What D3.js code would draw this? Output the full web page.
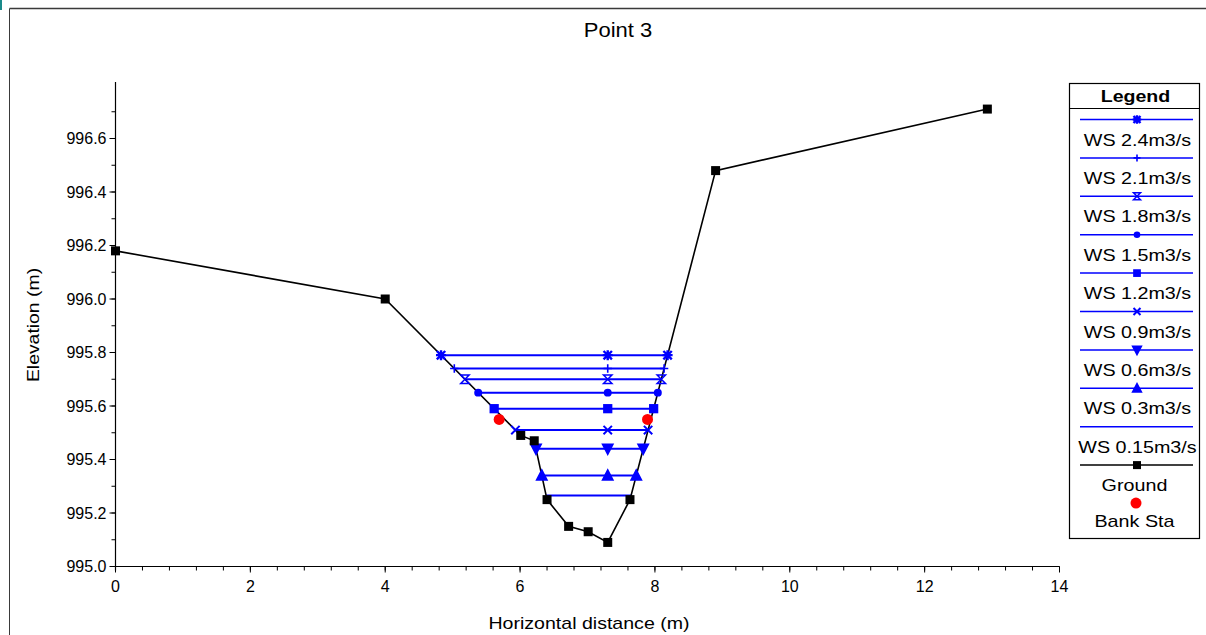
<!DOCTYPE html>
<html>
<head>
<meta charset="utf-8">
<script src="https://cdn.jsdelivr.net/npm/d3@7"></script>
<style>
  html, body { margin: 0; padding: 0; background: #fff; }
  svg { display: block; font-family: "Liberation Sans", Arial, sans-serif; }
</style>
</head>
<body>
<svg id="chart" width="1206" height="635"></svg>
<script>
// ---------- data ----------
const groundX = [0, 4.0, 6.01, 6.21, 6.40, 6.72, 7.01, 7.30, 7.63, 8.90, 12.93];
const groundY = [996.18, 996.0, 995.49, 995.47, 995.25, 995.15, 995.13, 995.09, 995.25, 996.48, 996.71];

const wsNames = ["WS 2.4m3/s", "WS 2.1m3/s", "WS 1.8m3/s", "WS 1.5m3/s", "WS 1.2m3/s",
                 "WS 0.9m3/s", "WS 0.6m3/s", "WS 0.3m3/s", "WS 0.15m3/s"];
const wsElev  = [995.79, 995.74, 995.70, 995.65, 995.59, 995.51, 995.44, 995.34, 995.265];
const wsMarker = ["star", "plus", "hourglass", "circle", "square", "x", "tridown", "triup", "none"];
const wsMidStation = 7.30;

const bankX = [5.69, 7.89];
const bankY = [995.55, 995.55];

const xTicks = [0, 2, 4, 6, 8, 10, 12, 14];
const yTicks = [995.0, 995.2, 995.4, 995.6, 995.8, 996.0, 996.2, 996.4, 996.6];

const titleText = "Point 3";
const xLabel = "Horizontal distance (m)";
const yLabel = "Elevation (m)";

// ---------- setup ----------
const svg = d3.select("#chart");
const BLUE = "#0000ff";

function stretch(sel, k) {
  sel.each(function () {
    const w = this.getComputedTextLength();
    d3.select(this).attr("textLength", w * k).attr("lengthAdjust", "spacingAndGlyphs");
  });
  return sel;
}

// frame
svg.append("line").attr("x1", 9.5).attr("x2", 1206).attr("y1", 8.5).attr("y2", 8.5)
  .attr("stroke", "#3a3a3a").attr("stroke-width", 1.5);
svg.append("line").attr("x1", 9.5).attr("x2", 9.5).attr("y1", 8.5).attr("y2", 635)
  .attr("stroke", "#3a3a3a").attr("stroke-width", 1);
svg.append("rect").attr("x", 0).attr("y", 0).attr("width", 2).attr("height", 10).attr("fill", "#1a8a8a");

const x = d3.scaleLinear().domain([0, 14]).range([115.5, 1059.5]);
const y = d3.scaleLinear().domain([995.0, 996.6]).range([566.5, 138.5]);
const yTop = 82;

// ---------- axes ----------
const xMinor = d3.range(0, 14.0001, 0.4).map(v => +v.toFixed(2));
const yMinor = d3.range(995.0, 996.75, 0.1).map(v => +v.toFixed(2)).filter(v => y(v) >= yTop);

const axisG = svg.append("g").attr("stroke", "#000");
axisG.append("line").attr("x1", x(0)).attr("x2", x(14)).attr("y1", y(995)).attr("y2", y(995)).attr("stroke-width", 1.2);
axisG.append("line").attr("x1", x(0)).attr("x2", x(0)).attr("y1", yTop).attr("y2", y(995) + 4).attr("stroke-width", 1.2);

axisG.selectAll(".xmin").data(xMinor).enter().append("line")
  .attr("x1", d => x(d)).attr("x2", d => x(d))
  .attr("y1", y(995)).attr("y2", y(995) + 4).attr("stroke-width", 1);
axisG.selectAll(".xmaj").data(xTicks).enter().append("line")
  .attr("x1", d => x(d)).attr("x2", d => x(d))
  .attr("y1", y(995)).attr("y2", y(995) + 6).attr("stroke-width", 1);
axisG.selectAll(".ymin").data(yMinor).enter().append("line")
  .attr("x1", x(0) - 4).attr("x2", x(0))
  .attr("y1", d => y(d)).attr("y2", d => y(d)).attr("stroke-width", 1);
axisG.selectAll(".ymaj").data(yTicks).enter().append("line")
  .attr("x1", x(0) - 6).attr("x2", x(0))
  .attr("y1", d => y(d)).attr("y2", d => y(d)).attr("stroke-width", 1);

svg.selectAll(".xtl").data(xTicks).enter().append("text")
  .attr("x", d => x(d)).attr("y", y(995) + 25)
  .attr("text-anchor", "middle").attr("font-size", 16).attr("fill", "#000")
  .text(d => d3.format("d")(d));
svg.selectAll(".ytl").data(yTicks).enter().append("text")
  .attr("x", x(0) - 9).attr("y", d => y(d) + 5.5)
  .attr("text-anchor", "end").attr("font-size", 16).attr("fill", "#000")
  .text(d => d3.format(".1f")(d));

stretch(svg.append("text").attr("x", 618).attr("y", 37).attr("text-anchor", "middle")
  .attr("font-size", 20).text(titleText), 1.1);
stretch(svg.append("text").attr("x", 589).attr("y", 629).attr("text-anchor", "middle")
  .attr("font-size", 17).text(xLabel), 1.15);
stretch(svg.append("text").attr("transform", "translate(39,325) rotate(-90)").attr("text-anchor", "middle")
  .attr("font-size", 17).text(yLabel), 1.14);

// ---------- markers ----------
function markerPath(type, s) {
  switch (type) {
    case "star": return `M${-s},${-s}L${s},${s}M${-s},${s}L${s},${-s}M0,${-s*1.2}V${s*1.2}M${-s*1.2},0H${s*1.2}`;
    case "plus": return `M0,${-s}V${s}M${-s},0H${s}`;
    case "hourglass": return `M${-s},${-s}H${s}L${-s},${s}H${s}Z`;
    case "x": return `M${-s},${-s}L${s},${s}M${-s},${s}L${s},${-s}`;
    case "tridown": return `M${-s*1.15},${-s}H${s*1.15}L0,${s*1.2}Z`;
    case "triup": return `M${-s*1.15},${s}H${s*1.15}L0,${-s*1.2}Z`;
    default: return "";
  }
}
function drawMarker(g, type, cx, cy, s) {
  if (type === "none") return;
  if (type === "circle") {
    g.append("circle").attr("cx", cx).attr("cy", cy).attr("r", s * 0.95).attr("fill", BLUE);
  } else if (type === "square") {
    g.append("rect").attr("x", cx - s * 1.1).attr("y", cy - s * 1.1).attr("width", s * 2.2).attr("height", s * 2.2).attr("fill", BLUE);
  } else {
    const filled = type === "tridown" || type === "triup";
    const sw = type === "plus" ? 1.6 : (type === "hourglass" ? 1.5 : (type === "star" ? 2.4 : 2));
    g.append("path").attr("transform", `translate(${cx},${cy})`).attr("d", markerPath(type, s))
      .attr("fill", filled ? BLUE : "none").attr("stroke", BLUE).attr("stroke-width", sw);
  }
}

// ---------- intersections of WS with ground ----------
const ground = groundX.map((gx, i) => ({ x: gx, y: groundY[i] }));
const thalweg = d3.minIndex(ground, d => d.y);
function leftEdge(z) {
  for (let i = thalweg; i > 0; i--) {
    const a = ground[i - 1], b = ground[i];
    if (a.y >= z && b.y <= z) return a.x + (b.x - a.x) * (a.y - z) / (a.y - b.y);
  }
  return ground[0].x;
}
function rightEdge(z) {
  for (let i = thalweg; i < ground.length - 1; i++) {
    const a = ground[i], b = ground[i + 1];
    if (a.y <= z && b.y >= z) return a.x + (b.x - a.x) * (z - a.y) / (b.y - a.y);
  }
  return ground[ground.length - 1].x;
}

// ---------- water surfaces ----------
const wsG = svg.append("g");
wsElev.forEach((z, i) => {
  const xl = leftEdge(z), xr = rightEdge(z);
  wsG.append("line").attr("x1", x(xl)).attr("x2", x(xr)).attr("y1", y(z)).attr("y2", y(z))
    .attr("stroke", BLUE).attr("stroke-width", 2);
});

// ground line
const line = d3.line().x(d => x(d.x)).y(d => y(d.y));
svg.append("path").datum(ground).attr("d", line).attr("fill", "none")
  .attr("stroke", "#000").attr("stroke-width", 1.6);

// ws markers
const mG = svg.append("g");
wsElev.forEach((z, i) => {
  const xl = leftEdge(z), xr = rightEdge(z);
  [xl, wsMidStation, xr].forEach(px => drawMarker(mG, wsMarker[i], x(px), y(z), 4.2));
});

// ground squares
svg.selectAll(".gpt").data(ground).enter().append("rect")
  .attr("x", d => x(d.x) - 4.5).attr("y", d => y(d.y) - 4.5)
  .attr("width", 9).attr("height", 9).attr("fill", "#000");

// bank stations
svg.selectAll(".bank").data(bankX).enter().append("circle")
  .attr("cx", d => x(d)).attr("cy", (d, i) => y(bankY[i])).attr("r", 5.5).attr("fill", "#ff0000");

// ---------- legend ----------
const lg = svg.append("g");
const LX = 1069.5, LY = 83.5, LW = 130, LH = 455;
lg.append("rect").attr("x", LX).attr("y", LY).attr("width", LW).attr("height", LH)
  .attr("fill", "#fff").attr("stroke", "#000").attr("stroke-width", 1.2);
lg.append("line").attr("x1", LX).attr("x2", LX + LW).attr("y1", 108.5).attr("y2", 108.5)
  .attr("stroke", "#000").attr("stroke-width", 1.2);
stretch(lg.append("text").attr("x", LX + LW / 2 + 1).attr("y", 102).attr("text-anchor", "middle")
  .attr("font-size", 17).attr("font-weight", "bold").text("Legend"), 1.15);

const rowH = 38.4, row0 = 119.5, lx1 = 1080, lx2 = 1193, lmx = 1137;
wsNames.forEach((name, i) => {
  const ly = row0 + i * rowH;
  lg.append("line").attr("x1", lx1).attr("x2", lx2).attr("y1", ly).attr("y2", ly)
    .attr("stroke", BLUE).attr("stroke-width", 1.5);
  drawMarker(lg, wsMarker[i], lmx, ly, 3.5);
  stretch(lg.append("text").attr("x", LX + LW / 2 + 3).attr("y", ly + 26).attr("text-anchor", "middle")
    .attr("font-size", 17).text(name), 1.16);
});
const gly = row0 + wsNames.length * rowH;
lg.append("line").attr("x1", lx1).attr("x2", lx2).attr("y1", gly).attr("y2", gly)
  .attr("stroke", "#000").attr("stroke-width", 1.5);
lg.append("rect").attr("x", lmx - 4).attr("y", gly - 4).attr("width", 8).attr("height", 8).attr("fill", "#000");
stretch(lg.append("text").attr("x", LX + LW / 2).attr("y", gly + 26).attr("text-anchor", "middle")
  .attr("font-size", 17).text("Ground"), 1.16);
lg.append("circle").attr("cx", lmx - 1).attr("cy", gly + 38).attr("r", 5.5).attr("fill", "#ff0000");
stretch(lg.append("text").attr("x", LX + LW / 2).attr("y", gly + 62).attr("text-anchor", "middle")
  .attr("font-size", 17).text("Bank Sta"), 1.16);
</script>
</body>
</html>
